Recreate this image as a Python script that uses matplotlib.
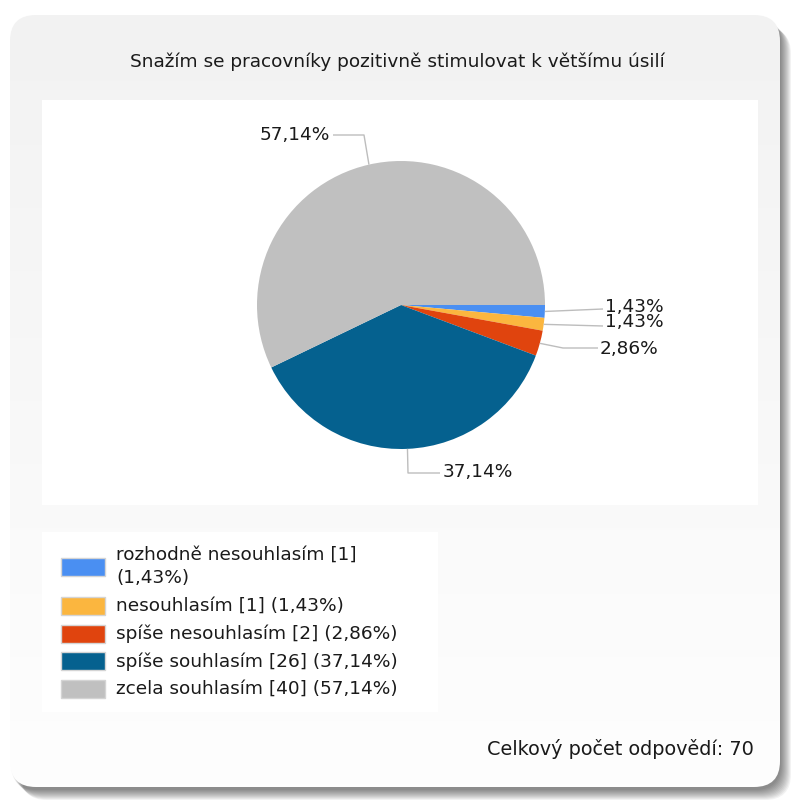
import textwrap
import numpy as np
import matplotlib.pyplot as plt
from matplotlib.colors import LinearSegmentedColormap
from matplotlib.patches import FancyBboxPatch, Rectangle

plt.rcParams['font.family'] = ['DejaVu Sans']

TITLE = "Snažím se pracovníky pozitivně stimulovat k většímu úsilí"
CATEGORIES = ["rozhodně nesouhlasím", "nesouhlasím", "spíše nesouhlasím",
              "spíše souhlasím", "zcela souhlasím"]
COUNTS = [1, 1, 2, 26, 40]
COLORS = ["#4a8ff2", "#fbb63f", "#e0440e", "#05618f", "#c0c0c0"]
TOTAL_TEXT = "Celkový počet odpovědí"

W, H, DPI = 792, 802, 100
FS = 13.3

total = sum(COUNTS)
pcts = [100 * c / total for c in COUNTS]


def fmt(p):
    return f"{p:.2f}".replace(".", ",") + "%"


fig = plt.figure(figsize=(W / DPI, H / DPI), dpi=DPI)
fig.patch.set_facecolor("white")

# background canvas in pixel units (y grows downward)
bg = fig.add_axes([0, 0, 1, 1])
bg.set_xlim(0, W)
bg.set_ylim(H, 0)
bg.axis("off")

px, py, pw, ph = 10, 15, 770, 772
# drop shadow towards the bottom right
for i in range(11):
    off = 1 + i
    bg.add_patch(FancyBboxPatch((px + off, py + off + 2), pw, ph,
                                boxstyle="round,pad=0,rounding_size=26",
                                fc="black", ec="none", alpha=0.05, zorder=1))

panel = FancyBboxPatch((px, py), pw, ph, boxstyle="round,pad=0,rounding_size=26",
                       fc="none", ec="none", zorder=2)
bg.add_patch(panel)
grad = np.linspace(0, 1, 256).reshape(-1, 1)
cmap = LinearSegmentedColormap.from_list("panel", ["#f2f2f2", "#fefefe"])
img = bg.imshow(grad, cmap=cmap, extent=(px, px + pw, py + ph, py),
                aspect="auto", zorder=2)
img.set_clip_path(panel)
bg.set_xlim(0, W)
bg.set_ylim(H, 0)

bg.text(397, 62, TITLE, ha="center", va="center", fontsize=FS, color="#1a1a1a", zorder=5)

# legend box
bg.add_patch(Rectangle((42, 532), 396, 180, fc="white", ec="none", zorder=3))
y = 555
for cat, cnt, p, col in zip(CATEGORIES, COUNTS, pcts, COLORS):
    label = textwrap.fill(f"{cat} [{cnt}] ({fmt(p)})", width=30)
    n = label.count("\n") + 1
    yc = y + (n - 1) * 23 / 2
    bg.add_patch(Rectangle((61, yc - 9), 44, 18, fc=col, ec="#d4d4d4", lw=1, zorder=4))
    for k, line in enumerate(label.split("\n")):
        bg.text(116, y + k * 23, line, ha="left", va="center", fontsize=FS,
                color="#1a1a1a", zorder=5)
    y += n * 23 + 4.8

bg.text(754, 749, f"{TOTAL_TEXT}: {total}", ha="right", va="center",
        fontsize=13.9, color="#1a1a1a", zorder=5)

# pie plot area, data units equal to pixels (y up)
ax = fig.add_axes([42 / W, 1 - 505 / H, 716 / W, 405 / H])
ax.set_facecolor("white")
cx, cy, r = 401, H - 305, 144
ax.pie(COUNTS, colors=COLORS, startangle=0, counterclock=False,
       center=(cx, cy), radius=r, frame=True, wedgeprops=dict(linewidth=0))
ax.set_xlim(42, 758)
ax.set_ylim(H - 505, H - 100)
ax.set_aspect("equal")
ax.set_xticks([])
ax.set_yticks([])
for s in ax.spines.values():
    s.set_visible(False)

# leader routes: (bend points in pixel coords, text anchor, alignment)
LEADERS = [
    ([(603, 309)], (605, 307), "left"),
    ([(603, 326)], (605, 322), "left"),
    ([(563, 348), (598, 348)], (600, 349), "left"),
    ([(408, 473), (440, 473)], (443, 472), "left"),
    ([(364, 135), (333, 135)], (330, 135), "right"),
]

cum = 0
for p, (bends, (tx, ty), ha) in zip(pcts, LEADERS):
    mid = -np.deg2rad((cum + p / 2) * 3.6)
    cum += p
    ex, ey = cx + r * np.cos(mid), cy + r * np.sin(mid)
    xs = [ex] + [b[0] for b in bends]
    ys = [ey] + [H - b[1] for b in bends]
    ax.plot(xs, ys, color="#bdbdbd", lw=1.0, solid_capstyle="butt")
    ax.text(tx, H - ty, fmt(p), ha=ha, va="center", fontsize=FS, color="#1a1a1a")

fig.savefig("out.png", dpi=DPI)
